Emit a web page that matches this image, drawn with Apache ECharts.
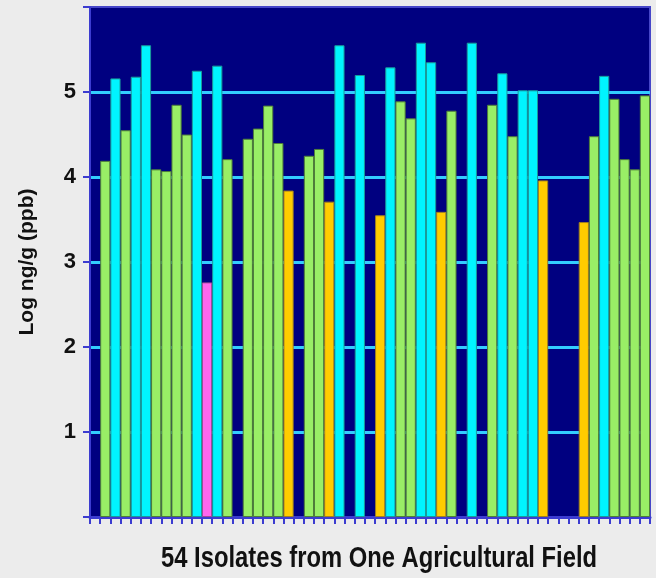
<!DOCTYPE html>
<html>
<head>
<meta charset="utf-8">
<title>Log ng/g (ppb)</title>
<script src="https://cdn.jsdelivr.net/npm/echarts@6/dist/echarts.min.js"></script>
<style>
  html, body { margin: 0; padding: 0; background: #ececec; }
  #chart { width: 656px; height: 578px; }
</style>
</head>
<body>
<div id="chart"></div>
<script>
// Isolate numbers 1..54 (one bar slot each; null level = nothing detected)
const isolates = Array.from({ length: 54 }, (_, i) => String(i + 1));

// Log ng/g (ppb) for each isolate
const levels = [
  4.19, 5.16, 4.55, 5.18, 5.55, 4.09, 4.07, 4.85, 4.50, 5.25,
  2.76, 5.31, 4.21, null, 4.45, 4.57, 4.84, 4.40, 3.84, null,
  4.25, 4.33, 3.71, 5.55, null, 5.20, null, 3.55, 5.29, 4.89,
  4.69, 5.58, 5.35, 3.59, 4.78, null, 5.58, null, 4.85, 5.22,
  4.48, 5.02, 5.02, 3.96, null, null, null, 3.47, 4.48, 5.19,
  4.92, 4.21, 4.09, 4.96
];

// Colour group of each isolate: G green, C cyan, P pink, O orange
const groups = [
  'G','C','G','C','C','G','G','G','G','C',
  'P','C','G','-','G','G','G','G','O','-',
  'G','G','O','C','-','C','-','O','C','G',
  'G','C','C','O','G','-','C','-','G','C',
  'G','C','C','O','-','-','-','O','G','C',
  'G','G','G','G'
];

const yTicks = [1, 2, 3, 4, 5];

const groupColors = { G: '#99ee66', C: '#00f4ff', P: '#ff66ee', O: '#ffcc00' };
const groupBorders = { G: '#4f7d3a', C: '#1a9a9a', P: '#a04a96', O: '#a08020' };

// one empty padding slot before the first isolate
const categories = [''].concat(isolates);
const barData = [null].concat(levels.map((v, i) => {
  if (v === null) return null;
  const g = groups[i];
  return {
    value: v,
    itemStyle: { color: groupColors[g], borderColor: groupBorders[g], borderWidth: 1 }
  };
}));

const chart = echarts.init(document.getElementById('chart'), null, { renderer: 'canvas' });

const option = {
  backgroundColor: '#ececec',
  animation: false,
  grid: {
    left: 90, top: 7, width: 560, height: 510,
    show: true,
    backgroundColor: '#000080',
    borderColor: '#4646c8',
    borderWidth: 2
  },
  xAxis: {
    type: 'category',
    data: categories,
    boundaryGap: true,
    axisLine: { show: true, lineStyle: { color: '#3c3cd0', width: 3 } },
    axisTick: { show: true, interval: 0, length: 7, lineStyle: { color: '#3c3cd0', width: 2 } },
    axisLabel: { show: false },
    splitLine: { show: false }
  },
  yAxis: {
    type: 'value',
    min: 0, max: 6, interval: 1,
    axisLine: { show: true, lineStyle: { color: '#3c3cd0', width: 2 } },
    axisTick: { show: true, length: 7, lineStyle: { color: '#3c3cd0', width: 2 } },
    axisLabel: {
      color: '#111',
      fontFamily: 'Liberation Sans, Arial, sans-serif',
      fontWeight: 'bold',
      fontSize: 22,
      margin: 14,
      formatter: v => (yTicks.indexOf(v) >= 0 ? String(v) : '')
    },
    splitLine: {
      show: true,
      showMinLine: false,
      showMaxLine: false,
      lineStyle: { color: '#33ccff', width: 3 }
    },
    name: 'Log ng/g (ppb)',
    nameLocation: 'middle',
    nameGap: 52,
    nameRotate: 90,
    nameTextStyle: {
      color: '#111',
      fontFamily: 'Liberation Sans, Arial, sans-serif',
      fontWeight: 'bold',
      fontSize: 21
    }
  },
  graphic: [{
    type: 'text',
    x: 161,
    y: 544,
    scaleX: 0.82,
    style: {
      text: '54 Isolates from One Agricultural Field',
      fill: '#111',
      font: 'bold 29px "Liberation Sans", Arial, sans-serif'
    }
  }],
  series: [{
    type: 'bar',
    data: barData,
    barCategoryGap: '0%',
    barGap: '0%'
  }]
};

chart.setOption(option);
</script>
</body>
</html>
